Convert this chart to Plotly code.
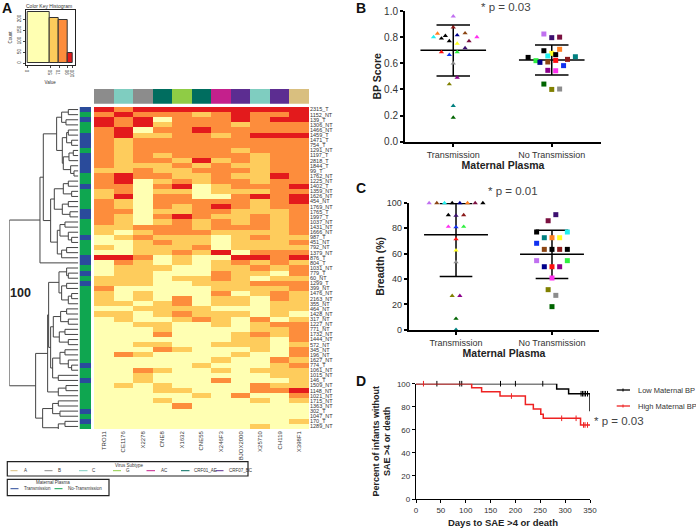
import plotly.graph_objects as go

W, H = 696, 528
FONT = "Liberation Sans"
TXT = "#333333"

# ---------- Panel A data ----------
row_labels = ["2315_T","1152_NT","139_T","1306_NT","1466_NT","1459_T","1471_T","754_T","1291_NT","1197_T",
 "2818_T","1844_T","99_T","1762_NT","1225_NT","1402_T","1359_NT","1626_NT","454_NT","1769_NT",
 "1765_T","1997_T","1037_NT","1431_NT","1666_NT","987_T","451_NT","792_NT","1379_NT","876_T",
 "804_T","1031_NT","779_T","60_NT","1299_T","399_NT","1476_NT","2163_NT","355_NT","464_NT",
 "1428_NT","317_NT","1227_NT","771_NT","1732_NT","1444_NT","572_NT","345_NT","196_NT","1627_NT",
 "774_T","1061_NT","1015_NT","146_T","1509_NT","1148_NT","1021_NT","1715_NT","1363_NT","302_T",
 "1047_NT","170_T","1289_NT"]
col_labels = ["TRO11","CE1176","X2278","CNE8","X1632","CNE55","X246F3","BJOX2000","X25710","CH119","X398F1"]
col_subtype = ["B","C","B","CRF01_AE","G","CRF01_AE","AC","CRF07_BC","C","CRF07_BC","A"]
heat = [
[3,2,3,3,3,3,3,3,3,3,3],[2,3,2,2,2,1,2,3,2,2,3],[3,2,3,0,2,2,2,3,2,3,3],[3,2,3,1,2,2,2,1,2,2,2],
[2,3,0,2,2,3,2,2,2,2,2],[2,3,1,1,2,2,1,2,3,3,3],[2,1,2,2,2,2,2,2,2,2,2],[2,1,2,2,2,2,2,2,2,2,2],
[2,1,2,2,2,2,2,1,2,2,2],[2,1,2,1,2,2,2,2,1,2,2],[2,1,2,2,1,3,1,2,1,2,2],[2,1,1,1,2,1,2,1,1,2,2],
[1,1,2,1,1,2,2,2,1,2,2],[2,3,2,2,1,1,2,1,1,3,2],[2,3,0,1,2,1,2,2,1,2,2],[2,2,0,2,3,0,1,2,2,2,3],
[1,2,0,1,1,0,1,1,1,2,2],[1,3,0,2,2,0,0,2,3,2,3],[2,1,0,2,2,2,2,2,1,2,3],[2,1,0,2,1,2,3,2,1,2,2],
[2,2,0,1,1,2,2,1,1,1,2],[2,1,0,2,3,2,1,1,2,1,2],[2,1,0,1,2,1,2,1,2,1,2],[1,1,2,2,2,1,2,2,2,1,2],
[1,0,1,2,2,2,1,1,1,1,2],[0,1,2,1,1,1,0,1,2,1,1],[0,0,1,2,1,1,0,1,1,1,2],[1,0,1,1,1,2,0,1,1,1,1],
[0,0,1,1,2,1,3,0,2,2,2],[3,3,2,0,1,0,0,3,3,2,3],[0,2,1,0,1,0,1,2,1,2,1],[0,1,1,1,0,0,1,1,2,1,2],
[0,1,1,0,0,0,2,1,1,0,2],[1,1,1,0,1,1,2,1,0,1,1],[1,1,1,0,0,1,1,1,2,2,2],[2,0,0,0,0,0,1,1,1,1,2],
[1,0,1,0,0,0,2,0,1,2,1],[1,0,1,0,2,0,1,1,0,2,1],[1,1,0,1,2,0,1,1,0,1,1],[0,0,1,1,1,1,0,0,0,1,1],
[1,1,0,1,2,1,1,1,0,1,0],[0,1,0,0,1,2,1,0,2,0,1],[0,0,1,1,0,0,1,0,1,2,2],[0,0,0,1,0,0,0,0,1,1,2],
[0,0,0,2,0,0,0,1,2,1,2],[0,0,0,0,0,0,0,1,1,0,2],[0,0,1,1,0,0,1,1,1,0,1],[0,0,0,2,1,0,0,0,1,0,2],
[0,2,1,0,0,0,0,1,0,0,2],[0,0,0,0,0,0,1,0,0,2,1],[0,0,0,0,0,1,0,0,0,1,2],[0,0,2,1,0,0,1,0,1,1,1],
[0,0,1,0,0,0,0,0,0,1,1],[0,0,1,0,0,0,2,0,0,0,1],[0,1,0,1,0,0,0,0,2,1,1],[0,0,0,1,1,0,0,0,2,2,3],
[0,0,0,0,0,1,0,2,0,0,2],[0,0,0,1,0,0,0,0,1,0,1],[0,0,0,0,2,0,0,0,0,0,0],[0,0,0,0,0,0,0,0,0,0,0],
[0,0,0,0,0,0,0,0,0,0,0],[0,0,0,0,0,0,0,0,0,0,1],[0,0,0,0,0,0,0,0,1,0,0]]

# colour key histogram
hist_breaks = [0, 50, 70, 90, 100]
hist_counts = [232, 207, 197, 45]

# dendrogram: (merge position, upper child, lower child); 1 = a leaf row
A1 = (170, (185, (205,1,1), (198,1,1)),
      (187, (200,(205,1,1),(215,1,1)), (190,(207,(220,1,1),1),(212,1,(222,1,1)))))
A2 = (152, (163, (190,(205,1,1),(215,1,1)), (187,(205,1,1),(210,1,1))),
      (172, (180,(195,1,1),(205,1,(215,1,1))), (185,(200,1,1),1)))
UPPER = (120, (130, A1, A2), 1)
L1a = (177, (200,1,(205,1,1)), (185,(200,1,1),(205,(215,1,1),1)))
L1b = (160, (182,(200,1,1),(205,1,1)), (178,(195,1,1),(205,1,1)))
L1c = (158, (180,(195,1,1),(205,1,(215,1,1))), (175,1,1))
L1d = (175, (198,1,1), 1)
L2 = (128, (158,(175,1,1),(180,1,1)), (175,(195,1,1),1))
LOWER = (107, (143, (146, L1a, (152, L1b, L1c)), L1d), L2)
DENDRO = (28, UPPER, LOWER)

# ---------- Panel B data ----------
palette = dict(violet="#C070F0", dred="#8B1A1A", orange="#FF7F20", black="#000000", brown="#8B4513",
               navy="#00008B", cyan="#20F0F0", magenta="#FF30F0", maroon="#7B1040", yellow="#FFFF20",
               dpurple="#3D1070", red="#FF1010", lime="#30F040", blue="#1030F0", gray="#8C8C8C",
               purple="#8B008B", olive="#808000", teal="#008080", green="#006400")
bp_t_values = [.96,.875,.827,.81,.83,.79,.815,.80,.80,.77,.77,.75,.717,.685,.685,.665,.60,.49,.44,.275,.185]
bp_t_spread = [0,0,-.16,-.08,.12,-.12,.04,-.2,.24,-.04,.16,.04,.12,-.12,.04,-.04,0,.04,-.04,0,0]
bp_t_colors = ["violet","dred","orange","black","brown","black","navy","cyan","magenta","black","maroon",
               "yellow","dpurple","red","lime","blue","gray","purple","olive","teal","green"]
bp_n_values = [.824,.796,.80,.696,.707,.676,.666,.645,.656,.65,.62,.607,.61,.622,.63,.582,.546,.543,.441,.40,.403]
bp_n_spread = [-.08,0,.08,-.08,.08,0,.04,-.24,-.04,.24,-.16,-.12,-.04,.04,.16,.12,-.04,.04,-.08,0,.08]
bp_n_colors = ["violet","dpurple","maroon","black","orange","yellow","black","black","cyan","teal","lime",
               "navy","brown","red","dred","blue","purple","magenta","green","olive","gray"]
bp_t_stats = (.70, .893, .503)
bp_n_stats = (.625, .74, .51)

# ---------- Panel C data ----------
br_t_values = [100,100,100,100,100,100,100,100,90.5,90,90.5,81.3,81,81.3,71.6,62.6,53.4,26.8,26.8,8.7,0]
br_t_spread = [-.28,-.2,-.12,-.04,.04,.12,.2,.28,-.08,0,.08,-.08,0,.08,0,0,0,-.04,.04,0,0]
br_t_colors = ["violet","brown","cyan","black","navy","orange","maroon","black","black","dpurple","dred",
               "magenta","blue","lime","red","yellow","gray","olive","purple","green","teal"]
br_n_values = [90.8,86,77.1,77.1,72.6,72.6,72.6,68.2,63.4,63.4,63.4,63.4,54.5,54.5,49.7,49.7,49.7,40.8,31.6,27.1,18.2]
br_n_spread = [.04,-.04,-.16,.16,-.08,0,.08,-.16,-.08,0,.08,.16,-.16,.16,-.08,0,.08,0,-.04,.04,0]
br_n_colors = ["dpurple","maroon","black","cyan","teal","orange","yellow","blue","brown","black","dred","black",
               "violet","lime","navy","red","purple","magenta","olive","gray","green"]
br_t_stats = (75, 99.7, 42)
br_n_stats = (59.5, 78.4, 40.5)

# ---------- Panel D data ----------
low_days = [0, 283, 307, 350, 350]
low_surv = [100, 95.4, 91.3, 91.3, 76]
low_cens_days = [42, 88, 92, 170, 200, 255, 332, 335, 338, 341, 345]
low_cens_surv = [100, 100, 100, 100, 100, 100, 91.3, 91.3, 91.3, 91.3, 91.3]
high_days = [0, 112, 132, 169, 220, 236, 251, 256, 331, 350]
high_surv = [100, 96.5, 93, 89.3, 82, 78, 73.4, 70, 64.2, 64.2]
high_cens_days = [15, 192, 293, 322, 337, 340, 345]
high_cens_surv = [100, 89.3, 70, 70, 64.2, 64.2, 64.2]

# ---------- Helpers ----------
def xd(a, b): return [a / W, b / W]
def yd(top, bot): return [1 - bot / H, 1 - top / H]
def px(x): return x / W
def py(y): return 1 - y / H

LEVELS = ["#FFFFB2", "#FECC5C", "#FD8D3C", "#E31A1C"]
SUB = {"A": "#D9BF7F", "B": "#8C8C8C", "C": "#7FCDC0", "G": "#8FCC45", "AC": "#C4208C",
       "CRF01_AE": "#006D5F", "CRF07_BC": "#5C2D91"}
BLUE, GREEN = "#2A4B9B", "#0FA650"

def discrete(cols):
    n = len(cols); out = []
    for i, c in enumerate(cols):
        out += [[i / n, c], [(i + 1) / n, c]]
    return out

fig = go.Figure()
annots, shapes = [], []

def txt(x, y, s, size, bold=False, angle=0, anchor="center", color=TXT):
    annots.append(dict(x=px(x), y=py(y), xref="paper", yref="paper", text=f"<b>{s}</b>" if bold else s,
                       showarrow=False, textangle=angle, xanchor=anchor, yanchor="middle",
                       font=dict(family=FONT, size=size, color=color)))

def seg(x0, y0, x1, y1, color, w):
    shapes.append(dict(type="line", xref="paper", yref="paper", x0=px(x0), y0=py(y0), x1=px(x1), y1=py(y1),
                       line=dict(color=color, width=w)))

def box(x0, y0, x1, y1):
    shapes.append(dict(type="rect", xref="paper", yref="paper", x0=px(x0), y0=py(y0), x1=px(x1), y1=py(y1),
                       line=dict(color="#222222", width=1.2)))

# histogram
widths = [b - a for a, b in zip(hist_breaks, hist_breaks[1:])]
mids = [(a + b) / 2 for a, b in zip(hist_breaks, hist_breaks[1:])]
fig.add_trace(go.Bar(x=mids, y=hist_counts, width=widths, marker=dict(color=LEVELS, line=dict(color="#333333", width=1)),
                     xaxis="x", yaxis="y", showlegend=False))
tiny = dict(family=FONT, size=4.5, color=TXT)
fig.update_layout(
    xaxis=dict(anchor="y", domain=xd(25.7, 74.7), range=[-4.5, 105], tickmode="array", tickvals=hist_breaks, tickangle=-90,
               tickfont=tiny, ticks="outside", ticklen=2, tickwidth=.7, showline=True, mirror=True, linecolor="#222",
               linewidth=1, showgrid=False, zeroline=False, title=dict(text="Value", font=tiny, standoff=4)),
    yaxis=dict(anchor="x", domain=yd(10, 65), range=[-8, 242], tickmode="array", tickvals=[0, 50, 100, 150, 200], tickangle=-90,
               tickfont=tiny, ticks="outside", ticklen=2, tickwidth=.7, showline=True, mirror=True, linecolor="#222",
               linewidth=1, showgrid=False, zeroline=False, title=dict(text="Count", font=tiny, standoff=4)))
txt(49, 5.7, "Color Key Histogram", 5)

# column colour strip
n_rows, n_cols = len(row_labels), len(col_labels)
subs = list(SUB)
fig.add_trace(go.Heatmap(z=[[subs.index(s) for s in col_subtype]], x=col_labels, y=["type"],
                         colorscale=discrete(list(SUB.values())), zmin=-.5, zmax=len(subs) - .5,
                         showscale=False, xaxis="x2", yaxis="y2"))
fig.update_layout(
    xaxis2=dict(anchor="y2", domain=xd(94, 309), visible=False, type="category"),
    yaxis2=dict(anchor="x2", domain=yd(89, 103.7), visible=False))

# main heatmap
fig.add_trace(go.Heatmap(z=heat, x=col_labels, y=list(range(n_rows)), colorscale=discrete(LEVELS), zmin=-.5, zmax=3.5,
                         showscale=False, xaxis="x3", yaxis="y3"))
fig.update_layout(
    xaxis3=dict(anchor="y3", domain=xd(94, 309), type="category", tickangle=-90, ticks="", showgrid=False, zeroline=False,
                tickfont=dict(family=FONT, size=6, color=TXT), automargin=False),
    yaxis3=dict(anchor="x3", domain=yd(107, 429), range=[n_rows - .5, -.5], side="right", tickmode="array",
                tickvals=list(range(n_rows)), ticktext=row_labels, ticks="", showgrid=False, zeroline=False,
                tickfont=dict(family=FONT, size=5.5, color=TXT), automargin=False))

# side strip
side = [[0 if r.endswith("_T") else 1] for r in row_labels]
fig.add_trace(go.Heatmap(z=side, y=list(range(n_rows)), x=["plasma"], colorscale=discrete([BLUE, GREEN]), zmin=-.5, zmax=1.5,
                         showscale=False, xaxis="x4", yaxis="y4"))
fig.update_layout(xaxis4=dict(anchor="y4", domain=xd(79.5, 91), visible=False),
                  yaxis4=dict(anchor="x4", domain=yd(107, 429), range=[n_rows - .5, -.5], visible=False))

# dendrogram
dx, dy, leaf = [], [], [0]
def walk(node):
    if node == 1:
        leaf[0] += 1
        return leaf[0] - 1, 235
    pos, a, b = node
    ya, xa = walk(a); yb, xb = walk(b)
    dx.extend([xa, pos, pos, xb, None]); dy.extend([ya, ya, yb, yb, None])
    return (ya + yb) / 2, pos
walk(DENDRO)
fig.add_trace(go.Scatter(x=dx, y=dy, mode="lines", line=dict(color="#444444", width=1), showlegend=False,
                         xaxis="x5", yaxis="y5", hoverinfo="skip"))
fig.update_layout(xaxis5=dict(anchor="y5", domain=xd(9.3, 78.3), range=[28, 235], visible=False),
                  yaxis5=dict(anchor="x5", domain=yd(107, 429), range=[n_rows - .5, -.5], visible=False))
txt(20.5, 293, "100", 12.5, bold=True, color="#222222")

# annotation legends of panel A
box(7.3, 461.7, 248, 476)
txt(129, 465, "Virus Subtype", 4.5)
for name, lab, x0, x1, xt in [("A", "A", 10.5, 17.5, 22), ("B", "B", 44.5, 52.5, 56), ("C", "C", 79, 87.5, 89.5),
                              ("G", "G", 113, 121, 124), ("AC", "AC", 146.5, 155, 158.5),
                              ("CRF01_AE", "CRF01_AE", 181, 189.5, 192.5), ("CRF07_BC", "CRF07_BC", 216, 223.5, 226.5)]:
    seg(x0, 470.7, x1, 470.7, SUB[name], 1)
    txt(xt, 470.7, lab, 4.5, anchor="left")
box(7.3, 479.3, 109, 495.7)
txt(53, 482.3, "Maternal Plasma", 4.5)
seg(10.5, 488.7, 18.5, 488.7, BLUE, 1); txt(21.5, 488.7, "Transmission", 4.5, anchor="left")
seg(54.5, 488.7, 62.5, 488.7, GREEN, 1); txt(65.5, 488.7, "No-Transmission", 4.5, anchor="left")

# dot plots
def dotplot(xa, ya, t_vals, t_spread, t_cols, t_stats, n_vals, n_spread, n_cols_, n_stats):
    for center, (m, hi, lo) in [(1, t_stats), (2, n_stats)]:
        lx = [center - .333, center + .333, None, center - .17, center + .17, None, center - .17, center + .17, None, center, center]
        ly = [m, m, None, hi, hi, None, lo, lo, None, lo, hi]
        fig.add_trace(go.Scatter(x=lx, y=ly, mode="lines", line=dict(color="#000000", width=1.5), showlegend=False,
                                 xaxis=xa, yaxis=ya, hoverinfo="skip"))
    for center, vals, spread, cols, sym, size in [(1, t_vals, t_spread, t_cols, "triangle-up", 4.6),
                                                  (2, n_vals, n_spread, n_cols_, "square", 5)]:
        fig.add_trace(go.Scatter(x=[center + s for s in spread], y=vals, mode="markers", showlegend=False, cliponaxis=False,
                                 marker=dict(symbol=sym, size=size, color=[palette[c] for c in cols], line=dict(width=0)),
                                 xaxis=xa, yaxis=ya))

dotplot("x6", "y6", bp_t_values, bp_t_spread, bp_t_colors, bp_t_stats, bp_n_values, bp_n_spread, bp_n_colors, bp_n_stats)
dotplot("x7", "y7", br_t_values, br_t_spread, br_t_colors, br_t_stats, br_n_values, br_n_spread, br_n_colors, br_n_stats)

def axstyle(**k):
    d = dict(showline=True, linecolor="#000000", linewidth=2, ticks="outside", tickcolor="#000000", tickwidth=2,
             ticklen=3, showgrid=False, zeroline=False)
    d.update(k); return d
boldt = lambda s, standoff, size=10.5: dict(text=f"<b>{s}</b>", standoff=standoff, font=dict(family=FONT, size=size, color="#222222"))
fig.update_layout(
    xaxis6=axstyle(anchor="y6", domain=xd(405, 601), range=[.51, 2.5], tickmode="array", tickvals=[1, 2],
                   ticktext=["Transmission", "No Transmission"], tickfont=dict(family=FONT, size=9, color=TXT),
                   title=boldt("Maternal Plasma", 3)),
    yaxis6=axstyle(anchor="x6", domain=yd(11, 141.7), range=[0, 1], tickmode="array", tickvals=[0, .2, .4, .6, .8, 1],
                   ticktext=["0.0", "0.2", "0.4", "0.6", "0.8", "1.0"], tickfont=dict(family=FONT, size=10, color=TXT),
                   title=boldt("BP Score", 0)),
    xaxis7=axstyle(anchor="y7", domain=xd(408.7, 599.3), range=[.507, 2.493], tickmode="array", tickvals=[1, 2],
                   ticktext=["Transmission", "No Transmission"], tickfont=dict(family=FONT, size=9, color=TXT),
                   title=boldt("Maternal Plasma", 3)),
    yaxis7=axstyle(anchor="x7", domain=yd(203, 329.7), range=[0, 100], tickmode="array", tickvals=[0, 20, 40, 60, 80, 100],
                   tickfont=dict(family=FONT, size=9, color=TXT), title=boldt("Breadth (%)", 0)))
txt(506, 7.5, "* p = 0.03", 11.5, color="#444444")
txt(513, 191, "* p = 0.01", 11.5, color="#444444")

# survival plot
RED = "#EE2222"
for d, s, cd, cs, col in [(low_days, low_surv, low_cens_days, low_cens_surv, "#000000"),
                          (high_days, high_surv, high_cens_days, high_cens_surv, RED)]:
    fig.add_trace(go.Scatter(x=d, y=s, mode="lines", line=dict(shape="hv", color=col, width=1.5), showlegend=False,
                             xaxis="x8", yaxis="y8", cliponaxis=False))
    fig.add_trace(go.Scatter(x=cd, y=cs, mode="markers", showlegend=False, xaxis="x8", yaxis="y8", cliponaxis=False,
                             marker=dict(symbol="line-ns", size=4, line=dict(color=col, width=1))))
fig.update_layout(
    xaxis8=axstyle(anchor="y8", domain=xd(416, 590), range=[0, 350], tickmode="array", tickvals=list(range(0, 351, 50)), linewidth=1.3,
                   tickwidth=1.3, ticklen=3, tickfont=dict(family=FONT, size=8, color=TXT),
                   title=boldt("Days to SAE &gt;4 or death", 5, 9.5)),
    yaxis8=axstyle(anchor="x8", domain=yd(383.7, 499), range=[0, 100], tickmode="array", tickvals=[0, 20, 40, 60, 80, 100], linewidth=1.3,
                   tickwidth=1.3, ticklen=3, tickfont=dict(family=FONT, size=8, color=TXT),
                   title=boldt("Percent of infants without<br>SAE &gt;4 or death", 4, 9)))
seg(616.7, 390, 630, 390, "#000000", 1.3); seg(623, 388.5, 623, 391.5, "#000000", 1)
seg(616.7, 406, 630, 406, RED, 1.3); seg(623, 404.5, 623, 407.5, RED, 1)
txt(635.7, 390, "Low Maternal BP", 7.5, anchor="left")
txt(635.7, 406, "High Maternal BP", 7.5, anchor="left")
txt(619, 421, "* p = 0.03", 11.5, color="#444444")

# panel letters
for s, x, y in [("A", 6.5, 8), ("B", 361, 8), ("C", 361, 188), ("D", 361, 381)]:
    txt(x, y, s, 14, bold=True, color="#111111")

fig.update_layout(width=W, height=H, margin=dict(l=0, r=0, t=0, b=0, autoexpand=False), paper_bgcolor="white",
                  plot_bgcolor="white", annotations=annots, shapes=shapes, showlegend=False, bargap=0)
fig.write_html("out.html", config=dict(displayModeBar=False),
               post_script="document.body.style.margin='0';document.body.style.overflow='hidden';")
